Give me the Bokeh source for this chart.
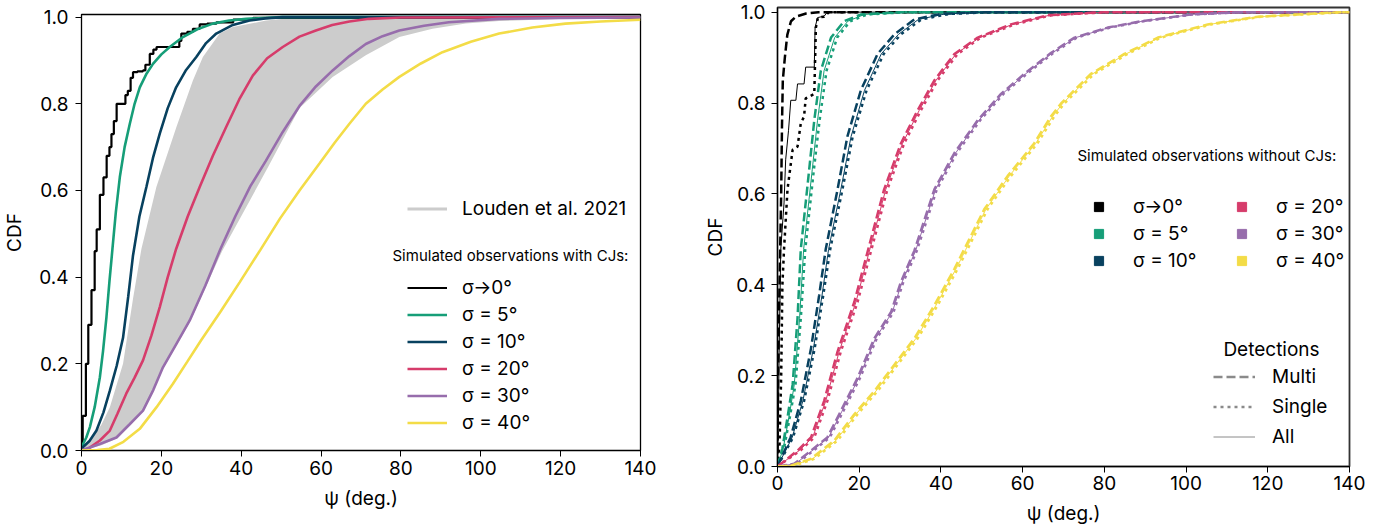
from bokeh.plotting import figure
from bokeh.layouts import row, column
from bokeh.models import Legend, LegendItem, Label, FixedTicker, PrintfTickFormatter, Range1d
from bokeh.embed import file_html
from bokeh.resources import INLINE

FONT = "Inter"
NAN = float("nan")
colors = ["#000000", "#169e78", "#08415f", "#d63c6b", "#976dac", "#f3dc47"]
sigma_labels = ["σ→0°", "σ = 5°", "σ = 10°", "σ = 20°", "σ = 30°", "σ = 40°"]
x_ticks = [0, 20, 40, 60, 80, 100, 120, 140]
y_ticks = [0.0, 0.2, 0.4, 0.6, 0.8, 1.0]

# ---------------- left panel data (with CJs) ----------------
l_s0_psi = [0, 0.3, 1.1, 1.7, 2.5, 3.3, 3.8, 4.6, 5.5, 6.3, 7.0, 7.5, 8.1, 8.8, 10.6, 11.0, 11.6, 12.3,
            12.9, 14.0, 15.4, 16.0, 17.1, 18.0, 18.8, 23.8, 24.5, 25.0, 26.5, 27.9, 29.6, 31.5, 33.8, 38.0, 43.0, 140]
l_s0_cdf = [0, 0.08, 0.2, 0.29, 0.37, 0.46, 0.51, 0.59, 0.63, 0.68, 0.70, 0.73, 0.76, 0.80, 0.80, 0.82, 0.83, 0.86,
            0.873, 0.875, 0.877, 0.89, 0.915, 0.925, 0.931, 0.931, 0.945, 0.962, 0.966, 0.973, 0.983, 0.985, 0.988, 0.994, 0.998, 1.0]
l_s5_psi = [0, 0.4, 1.2, 2.1, 3.3, 4.6, 5.4, 6.25, 7.0, 7.75, 8.6, 9.6, 10.8, 12.1, 13.3, 14.6, 16.2, 17.9,
            20, 22.1, 25.4, 29, 32.9, 37, 41.25, 50, 140]
l_s5_cdf = [0, 0.015, 0.03, 0.054, 0.1, 0.169, 0.23, 0.308, 0.39, 0.465, 0.55, 0.631, 0.70, 0.754, 0.80, 0.838,
            0.868, 0.892, 0.914, 0.931, 0.954, 0.972, 0.985, 0.992, 0.996, 1.0, 1.0]
l_s10_psi = [0, 0.4, 2, 3.75, 5.5, 7.1, 8.8, 10.4, 11.7, 12.9, 14.5, 16.25, 17.9, 19.6, 21.6, 23.7, 26.2,
             28.75, 31.2, 33.75, 37.9, 42.1, 46, 50.4, 140]
l_s10_cdf = [0, 0.008, 0.022, 0.046, 0.088, 0.138, 0.195, 0.26, 0.355, 0.45, 0.54, 0.608, 0.675, 0.731, 0.79,
             0.838, 0.878, 0.908, 0.94, 0.962, 0.982, 0.992, 0.997, 1.0, 1.0]
l_s20_psi = [0, 2, 4.6, 7.1, 9, 11.2, 13.3, 15.4, 17.5, 19.6, 21.6, 23.7, 26.6, 29.6, 32.9, 36.2, 39.5, 42.9,
             46.5, 50.4, 54.6, 58.7, 62.8, 67.1, 72, 80, 140]
l_s20_cdf = [0, 0.006, 0.023, 0.046, 0.085, 0.131, 0.168, 0.208, 0.265, 0.331, 0.40, 0.465, 0.54, 0.608, 0.68,
             0.746, 0.81, 0.865, 0.905, 0.931, 0.955, 0.969, 0.982, 0.99, 0.996, 0.999, 1.0]
l_s30_psi = [0, 4.6, 8.75, 12, 15.4, 18, 20.4, 23.7, 27.1, 31, 34.8, 38.5, 42.3, 46.2, 50.4, 54.6, 58.7, 62.9,
             67.1, 71.2, 75.4, 79.6, 85.8, 92, 104.6, 120, 140]
l_s30_cdf = [0, 0.015, 0.03, 0.06, 0.092, 0.14, 0.192, 0.245, 0.30, 0.38, 0.465, 0.54, 0.61, 0.669, 0.735,
             0.795, 0.84, 0.877, 0.91, 0.938, 0.956, 0.969, 0.98, 0.988, 0.996, 0.998, 0.999]
l_s40_psi = [0, 4, 7, 10.5, 14.6, 18.8, 22.9, 26.5, 30, 34.8, 39.6, 44.8, 49.7, 54.6, 59.6, 63.4, 67.1, 71.2,
             75.4, 79.6, 85, 90.4, 97.5, 104.6, 112.9, 121.2, 130, 140]
l_s40_cdf = [0, 0.001, 0.004, 0.02, 0.05, 0.1, 0.154, 0.205, 0.255, 0.32, 0.388, 0.463, 0.535, 0.60, 0.662,
             0.71, 0.754, 0.80, 0.833, 0.862, 0.893, 0.919, 0.943, 0.962, 0.976, 0.985, 0.99, 0.994]

louden_upper_psi = [0, 2, 5, 7.1, 10.4, 12.9, 15, 18.75, 23.75, 27.9, 30.4, 34.6, 37.9, 46.25, 55, 140]
louden_upper_cdf = [0, 0.02, 0.06, 0.1, 0.2, 0.35, 0.465, 0.608, 0.746, 0.854, 0.908, 0.962, 0.977, 0.992, 1.0, 1.0]
louden_lower_psi = [0, 5, 9, 15.5, 20.5, 27.2, 35.2, 46.8, 54.6, 62.9, 71.2, 79.6, 87.9, 96.25, 104.6, 121, 140]
louden_lower_cdf = [0, 0.012, 0.028, 0.09, 0.19, 0.297, 0.46, 0.655, 0.79, 0.862, 0.912, 0.954, 0.973, 0.985, 0.991, 0.996, 0.998]

# ---------------- right panel data (without CJs) ----------------
r_s0_multi_psi = [0, 0.1, 0.3, 0.6, 0.9, 1.1, 1.3, 1.8, 2.4, 3.3, 4.5, 7, 10, 140]
r_s0_multi_cdf = [0, 0.15, 0.3, 0.45, 0.6, 0.75, 0.85, 0.9, 0.95, 0.98, 0.99, 0.997, 1.0, 1.0]
r_s0_single_psi = [0, 0.5, 0.9, 1.2, 1.6, 2.45, 3.7, 4.9, 5.7, 6.5, 6.9, 9.0, 9.4, 9.9, 11.4, 12.6, 140]
r_s0_single_cdf = [0, 0.05, 0.2, 0.4, 0.478, 0.61, 0.697, 0.704, 0.755, 0.77, 0.81, 0.82, 0.966, 0.988, 0.99, 1.0, 1.0]
r_s0_all_psi = [0, 0.2, 0.4, 0.8, 1.6, 2.0, 2.7, 3.25, 4.5, 4.9, 6.5, 6.9, 9.0, 9.2, 9.8, 11.4, 12.2, 140]
r_s0_all_cdf = [0, 0.1, 0.25, 0.478, 0.58, 0.675, 0.74, 0.806, 0.806, 0.842, 0.842, 0.879, 0.879, 0.966, 0.988, 0.991, 1.0, 1.0]

r_s5_cdf = [0, 0.04, 0.108, 0.18, 0.326, 0.478, 0.653, 0.762, 0.871, 0.944, 0.98, 0.995, 1.0, 1.0]
r_s5_multi_psi = [0, 1.2, 2.45, 3.7, 4.9, 5.7, 7.75, 9.0, 10.6, 13.1, 16.3, 20.4, 30, 140]
r_s5_single_psi = [0, 1.6, 3.0, 4.4, 5.7, 6.8, 8.9, 10.3, 12.0, 14.6, 17.8, 22.0, 32, 140]
r_s5_all_psi = [0, 1.4, 2.8, 4.1, 5.4, 6.4, 8.5, 9.8, 11.4, 14.0, 17.2, 21.3, 31, 140]

r_s10_cdf = [0, 0.064, 0.144, 0.26, 0.377, 0.478, 0.61, 0.726, 0.828, 0.908, 0.951, 0.984, 0.996, 1.0, 1.0]
r_s10_multi_psi = [0, 3.2, 5.7, 8.2, 10.2, 11.8, 14.7, 17.1, 20.4, 24.5, 28.6, 33.5, 40, 50, 140]
r_s10_single_psi = [0, 3.8, 6.5, 9.1, 11.2, 12.9, 15.9, 18.4, 21.8, 26.0, 30.2, 35.2, 42, 52, 140]
r_s10_all_psi = [0, 3.6, 6.2, 8.8, 10.9, 12.5, 15.5, 18.0, 21.3, 25.4, 29.6, 34.5, 41, 51, 140]

r_s20_cdf = [0, 0.035, 0.064, 0.144, 0.253, 0.362, 0.471, 0.61, 0.711, 0.784, 0.85, 0.908, 0.944, 0.973, 0.993, 1.0, 1.0]
r_s20_multi_psi = [0, 4.9, 8.2, 11.4, 14.7, 18.8, 22, 26.1, 30.2, 34.3, 38.4, 43.3, 49, 57.1, 66.1, 80, 140]
r_s20_single_psi = [0, 5.6, 9.0, 12.2, 15.5, 19.6, 22.8, 26.9, 31.0, 35.1, 39.2, 44.1, 49.8, 58.0, 67.0, 81, 140]
r_s20_all_psi = [0, 5.3, 8.6, 11.8, 15.1, 19.2, 22.4, 26.5, 30.6, 34.7, 38.8, 43.7, 49.4, 57.5, 66.5, 80.5, 140]

r_s30_cdf = [0, 0.006, 0.035, 0.064, 0.122, 0.195, 0.282, 0.34, 0.406, 0.475, 0.61, 0.69, 0.762, 0.82, 0.864,
             0.91, 0.944, 0.966, 0.98, 0.995, 1.0, 1.0]
r_s30_multi_psi = [0, 4.1, 8.2, 12.2, 15.5, 19.6, 23.7, 27.8, 30.2, 33.5, 38.4, 43.3, 49, 54.7, 60.4,
                   66.9, 72.7, 80.8, 89, 101.2, 113.5, 140]
r_s30_single_psi = [0, 4.7, 8.8, 12.8, 16.1, 20.2, 24.3, 28.4, 30.8, 34.1, 39.0, 43.9, 49.6, 55.3, 61.0,
                    67.5, 73.3, 81.4, 89.6, 101.8, 114.1, 140]
r_s30_all_psi = [0, 4.4, 8.5, 12.5, 15.8, 19.9, 24.0, 28.1, 30.5, 33.8, 38.7, 43.6, 49.3, 55.0, 60.7,
                 67.2, 73.0, 81.1, 89.3, 101.5, 113.8, 140]

r_s40_cdf = [0, 0.002, 0.017, 0.057, 0.115, 0.166, 0.224, 0.282, 0.355, 0.435, 0.478, 0.566, 0.639, 0.711, 0.77,
             0.799, 0.864, 0.908, 0.944, 0.973, 0.99, 1.0, 1.0]
r_s40_multi_psi = [0, 3.3, 8.2, 13.9, 18.8, 23.7, 28.6, 33.5, 38.4, 43.3, 45.7, 50.6, 56.3, 62.8, 66.9,
                   69.4, 76.7, 84.9, 93.1, 105.3, 117.6, 138, 140]
r_s40_single_psi = [0, 4.1, 9.0, 14.7, 19.6, 24.5, 29.4, 34.3, 39.2, 44.1, 46.5, 51.4, 57.1, 63.6, 67.7,
                    70.2, 77.5, 85.7, 93.9, 106.1, 118.4, 139, 140]
r_s40_all_psi = [0, 3.7, 8.6, 14.3, 19.2, 24.1, 29.0, 33.9, 38.8, 43.7, 46.1, 51.0, 56.7, 63.2, 67.3,
                 69.8, 77.1, 85.3, 93.5, 105.7, 118.0, 138.5, 140]

detection_labels = ["Multi", "Single", "All"]


def style(p, tick_standoff_x, tick_standoff_y, lab_standoff_x, lab_standoff_y):
    p.xgrid.visible = False
    p.ygrid.visible = False
    p.xaxis.ticker = FixedTicker(ticks=x_ticks)
    p.yaxis.ticker = FixedTicker(ticks=y_ticks)
    p.yaxis.formatter = PrintfTickFormatter(format="%.1f")
    for ax in (p.xaxis[0], p.yaxis[0]):
        ax.major_label_text_font = FONT
        ax.major_label_text_font_size = "19px"
        ax.major_label_text_color = "black"
        ax.axis_label_text_font = FONT
        ax.axis_label_text_font_size = "19px"
        ax.axis_label_text_font_style = "normal"
        ax.axis_label_text_color = "black"
        ax.minor_tick_line_color = None
        ax.major_tick_in = 0
        ax.major_tick_out = 6
        ax.major_tick_line_color = "black"
        ax.axis_line_color = "black"
    p.xaxis.major_label_standoff = tick_standoff_x
    p.yaxis.major_label_standoff = tick_standoff_y
    p.xaxis.axis_label_standoff = lab_standoff_x
    p.yaxis.axis_label_standoff = lab_standoff_y
    p.xaxis.axis_label = "ψ (deg.)"
    p.yaxis.axis_label = "CDF"
    p.outline_line_color = "black"
    p.outline_line_width = 1.3
    try:
        p.frame_align = False
    except Exception:
        pass


def make_legend(items, x, y, glyph_w, standoff, spacing):
    return Legend(items=items, location=(x, y), padding=0, margin=0, spacing=spacing,
                  glyph_width=glyph_w, glyph_height=23, label_height=23, label_standoff=standoff,
                  label_text_font=FONT, label_text_font_size="19px", label_text_color="black",
                  border_line_color=None, background_fill_alpha=0)


# ================= left figure =================
p1 = figure(width=700, height=531, x_range=Range1d(0, 140), y_range=Range1d(0, 1.006),
            output_backend="svg", toolbar_location=None,
            min_border_left=81, min_border_right=60, min_border_top=14, min_border_bottom=81)
style(p1, 4, 7, 9, 10)

band_x = louden_upper_psi + louden_lower_psi[::-1]
band_y = louden_upper_cdf + louden_lower_cdf[::-1]
p1.patch(band_x, band_y, fill_color="#cccccc", line_color=None)
louden_line = p1.line(x=[NAN], y=[NAN], line_color="#cccccc", line_width=3)

left_series = [(l_s0_psi, l_s0_cdf), (l_s5_psi, l_s5_cdf), (l_s10_psi, l_s10_cdf),
               (l_s20_psi, l_s20_cdf), (l_s30_psi, l_s30_cdf), (l_s40_psi, l_s40_cdf)]
left_renderers = []
for i, (xs, ys) in enumerate(left_series):
    if i == 0:
        r = p1.step(xs, ys, mode="after", line_color=colors[i], line_width=2.2)
    else:
        r = p1.line(xs, ys, line_color=colors[i], line_width=2.6)
    left_renderers.append(r)

leg_louden = make_legend([LegendItem(label="Louden et al. 2021", renderers=[louden_line])],
                         326, 230, 40, 15, 4)
p1.add_layout(leg_louden, "center")
leg_sim = make_legend([LegendItem(label=sigma_labels[i], renderers=[left_renderers[i]]) for i in range(6)],
                      326, 16, 40, 15, 4)
p1.add_layout(leg_sim, "center")
p1.add_layout(Label(x=311, y=195, x_units="screen", y_units="screen", text="Simulated observations with CJs:",
                    text_font=FONT, text_font_size="15px", text_baseline="middle", text_color="black"))

# ================= right figure =================
p2 = figure(width=694, height=531, x_range=Range1d(0, 140), y_range=Range1d(0, 1.0102),
            output_backend="svg", toolbar_location=None,
            min_border_left=77, min_border_right=45, min_border_top=7, min_border_bottom=65)
style(p2, 3, 6, 9, 6)
p2.outline_line_color = "#333333"
p2.outline_line_width = 1.8

right_series = [
    ((r_s0_multi_psi, r_s0_multi_cdf), (r_s0_single_psi, r_s0_single_cdf), (r_s0_all_psi, r_s0_all_cdf)),
    ((r_s5_multi_psi, r_s5_cdf), (r_s5_single_psi, r_s5_cdf), (r_s5_all_psi, r_s5_cdf)),
    ((r_s10_multi_psi, r_s10_cdf), (r_s10_single_psi, r_s10_cdf), (r_s10_all_psi, r_s10_cdf)),
    ((r_s20_multi_psi, r_s20_cdf), (r_s20_single_psi, r_s20_cdf), (r_s20_all_psi, r_s20_cdf)),
    ((r_s30_multi_psi, r_s30_cdf), (r_s30_single_psi, r_s30_cdf), (r_s30_all_psi, r_s30_cdf)),
    ((r_s40_multi_psi, r_s40_cdf), (r_s40_single_psi, r_s40_cdf), (r_s40_all_psi, r_s40_cdf)),
]
for i, (multi, single, allc) in enumerate(right_series):
    p2.line(allc[0], allc[1], line_color=colors[i], line_width=1)
    p2.line(multi[0], multi[1], line_color=colors[i], line_width=2.5, line_dash="9 4")
    p2.line(single[0], single[1], line_color=colors[i], line_width=2.5, line_dash="3 4")

square_renderers = [p2.scatter(x=[NAN], y=[NAN], marker="square", fill_color=c, line_color=c) for c in colors]
col1 = make_legend([LegendItem(label=sigma_labels[i], renderers=[square_renderers[i]]) for i in range(3)],
                   310, 194, 23, 23, 4)
col2 = make_legend([LegendItem(label=sigma_labels[i], renderers=[square_renderers[i]]) for i in range(3, 6)],
                   453, 194, 23, 23, 4)
p2.add_layout(col1, "center")
p2.add_layout(col2, "center")
p2.add_layout(Label(x=300, y=311, x_units="screen", y_units="screen", text="Simulated observations without CJs:",
                    text_font=FONT, text_font_size="15px", text_baseline="middle", text_color="black"))

det_multi = p2.line(x=[NAN], y=[NAN], line_color="#8a8a8a", line_width=2.5, line_dash="9 4")
det_single = p2.line(x=[NAN], y=[NAN], line_color="#8a8a8a", line_width=2.5, line_dash="3 4")
det_all = p2.line(x=[NAN], y=[NAN], line_color="#8a8a8a", line_width=1)
det_leg = make_legend([LegendItem(label=detection_labels[0], renderers=[det_multi]),
                       LegendItem(label=detection_labels[1], renderers=[det_single]),
                       LegendItem(label=detection_labels[2], renderers=[det_all])],
                      436, 18, 42, 17, 7)
p2.add_layout(det_leg, "center")
p2.add_layout(Label(x=494, y=117, x_units="screen", y_units="screen", text="Detections",
                    text_font=FONT, text_font_size="19px", text_baseline="middle", text_align="center",
                    text_color="black"))

layout = row(column(p1), column(p2))
open("out.html", "w").write(file_html(layout, INLINE))
